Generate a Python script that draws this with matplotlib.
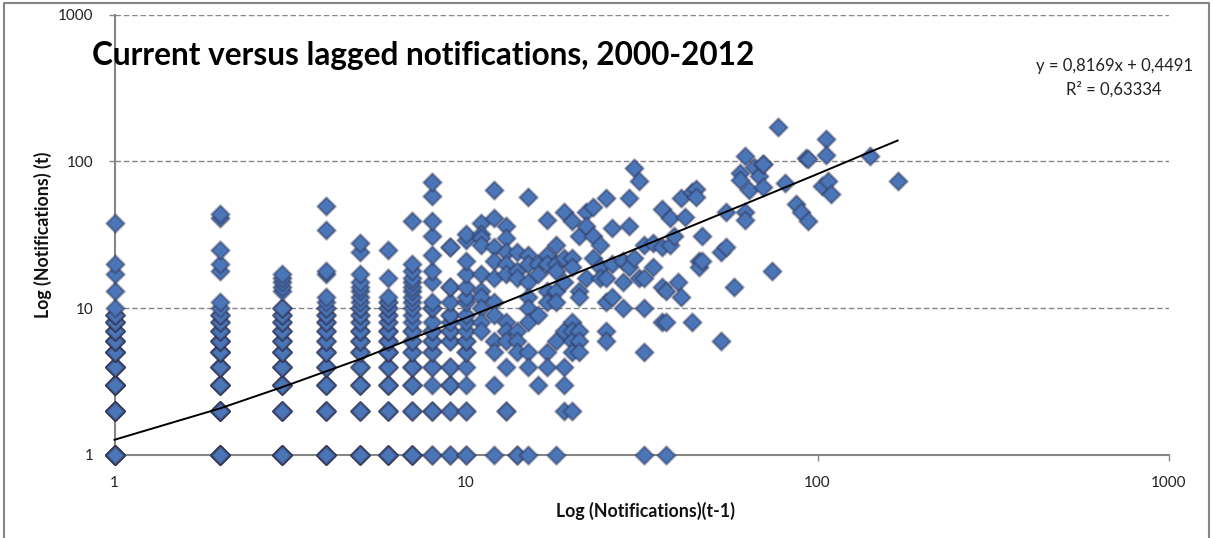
import matplotlib
matplotlib.use('Agg')
import matplotlib.pyplot as plt
from matplotlib.lines import Line2D
from matplotlib.markers import MarkerStyle

plt.rcParams['font.family'] = ['Lato', 'DejaVu Sans']

W, H = 1212, 538

# Столбцы с малыми значениями: повторы дают тёмные контуры
y_at_1 = [1]*12 + [2]*9 + [3]*9 + [4]*8 + [5]*7 + [6]*6 + [7]*5 + [8]*5 + [9]*4 + [10, 13, 17, 20, 38]
y_at_2 = [1]*10 + [2]*8 + [3]*7 + [4]*6 + [5]*6 + [6]*5 + [7]*4 + [8]*3 + [9]*3 + [10, 11, 18, 20, 25, 41, 44]
y_at_3 = [1]*9 + [2]*6 + [3]*6 + [4]*5 + [5]*5 + [6]*4 + [7]*4 + [8]*3 + [9]*3 + [10]*3 + [13, 14, 15, 16, 17]
y_at_4 = [1]*8 + [2]*5 + [3]*5 + [4]*4 + [5]*4 + [6]*3 + [7]*3 + [8]*3 + [9]*3 + [10]*2 + [11, 12, 17, 18, 34, 50]
y_at_5 = [1]*6 + [2]*4 + [3]*4 + [4]*3 + [5]*3 + [6]*3 + [7]*3 + [8]*2 + [9]*2 + [10]*2 + [11, 12, 13, 14, 15, 17, 24, 28]
y_at_6 = [1]*6 + [2]*4 + [3]*4 + [4]*3 + [5]*4 + [6]*3 + [7]*3 + [8]*2 + [9]*2 + [10]*2 + [11]*2 + [12, 16, 25]
y_at_7 = [1]*5 + [2]*3 + [3]*3 + [4]*3 + [5]*2 + [6]*2 + [7]*2 + [8, 9, 10, 11, 12, 13, 14, 15, 16, 18, 20, 39]
y_at_8 = [1, 1, 2, 2, 2, 3, 4, 4, 5, 5, 6, 6, 7, 7, 8, 10, 10, 11, 15, 18, 23, 31, 39, 58, 72]
y_at_9 = [1, 1, 2, 2, 3, 3, 3, 4, 4, 6, 6, 7, 7, 8, 9, 9, 11, 14, 14, 26, 26]
y_at_10 = [1, 1, 2, 2, 3, 4, 5, 5, 6, 6, 7, 8, 9, 11, 12, 14, 17, 21, 29, 32]

columns_x = [1, 2, 3, 4, 5, 6, 7, 8, 9, 10]
columns_y = [y_at_1, y_at_2, y_at_3, y_at_4, y_at_5, y_at_6, y_at_7, y_at_8, y_at_9, y_at_10]

# Разреженная часть облака
x_rest = [11, 11, 11, 11, 11, 11, 11, 11, 11, 11, 12, 12, 12, 12, 12, 12, 12, 12, 12, 12, 12,
          13, 13, 13, 13, 13, 13, 13, 13, 13, 13, 13, 14, 14, 14, 14, 14, 14, 14, 14,
          15, 15, 15, 15, 15, 15, 15, 15, 15, 15, 16, 16, 16, 16, 17, 17, 17, 17, 17, 17, 17,
          18, 18, 18, 18, 18, 18, 18, 19, 19, 19, 19, 19, 19, 19, 20, 20, 20, 20, 20, 20, 20, 20,
          21, 21, 21, 21, 21, 21, 22, 22, 22, 23, 23, 23, 24, 24, 24, 25, 25, 25, 25, 25,
          26, 26, 26, 28, 28, 28, 29, 29, 29, 30, 30, 31, 31, 32, 32, 32, 32, 32,
          34, 34, 36, 36, 36, 36, 37, 37, 37, 38, 38, 39, 40, 41, 41, 42, 44, 44, 45, 45, 46, 46,
          47, 47, 53, 53, 55, 55, 58, 60, 60, 62, 62, 62, 64, 66, 68, 70, 70, 70,
          74, 77, 81, 87, 90, 93, 94, 94, 103, 106, 106, 107, 109, 141, 169]
y_rest = [38, 32, 30, 27, 17, 13, 12, 10, 8, 7, 64, 41, 26, 21, 16, 11, 9, 6, 5, 3, 1,
          36, 30, 24, 20, 17, 8, 7, 6, 4, 2, 2, 24, 18, 16, 7, 6, 5, 1, 1,
          57, 23, 20, 15, 12, 10, 8, 5, 4, 1, 20, 17, 9, 3, 40, 23, 20, 13, 11, 5, 4,
          27, 20, 18, 13, 11, 6, 1, 45, 22, 15, 7, 4, 3, 2, 39, 22, 19, 8, 7, 6, 5, 2,
          31, 13, 12, 7, 6, 5, 45, 36, 16, 49, 31, 22, 27, 19, 16, 56, 16, 11, 7, 6,
          35, 20, 12, 21, 15, 10, 56, 36, 19, 90, 22, 73, 16, 27, 16, 10, 5, 1,
          28, 19, 47, 26, 14, 8, 13, 8, 1, 41, 27, 31, 15, 56, 12, 42, 62, 8, 65, 57, 21, 19,
          31, 21, 24, 6, 45, 26, 14, 83, 75, 108, 45, 40, 64, 92, 79, 96, 96, 67,
          18, 170, 71, 51, 45, 105, 104, 39, 68, 143, 110, 73, 60, 108, 73]

# Линия тренда, значения
trend_x = [1, 2, 3, 5, 7, 10, 15, 20, 30, 50, 70, 100, 140, 169]
trend_y = [1.27, 2.08, 2.9, 4.5, 6.2, 8.6, 12.7, 16.8, 25, 41.3, 57.6, 82, 115, 138.5]

ticks = [1, 10, 100, 1000]
tick_labels = ['1', '10', '100', '1000']

xs = []
ys = []
for cx, cy in zip(columns_x, columns_y):
    xs += [cx] * len(cy)
    ys += cy
xs += x_rest
ys += y_rest

fig = plt.figure(figsize=(W / 100, H / 100), dpi=100)
ax = fig.add_axes([114.5 / W, 1 - 455 / H, (1169 - 114.5) / W, (455 - 14.5) / H])
ax.set_xscale('log')
ax.set_yscale('log')
ax.set_xlim(1, 1000)
ax.set_ylim(1, 1000)

ax.grid(True, axis='y', which='major', color='#868686', linestyle=(0, (4, 2)), linewidth=1)
ax.set_axisbelow(True)
for s in ['top', 'right']:
    ax.spines[s].set_visible(False)
for s in ['left', 'bottom']:
    ax.spines[s].set_color('#868686')
    ax.spines[s].set_linewidth(1.5)
    ax.spines[s].set_zorder(1)

ax.set_xticks(ticks)
ax.set_xticklabels(tick_labels)
ax.set_yticks(ticks)
ax.set_yticklabels(tick_labels)
ax.minorticks_off()
ax.tick_params(axis='both', color='#868686', length=4, width=1, labelsize=11, labelcolor='#222222', pad=11)

diamond = MarkerStyle('D', joinstyle='round')
ax.plot(xs, ys, linestyle='none', marker=diamond, markersize=9, clip_on=False, zorder=3,
        markerfacecolor='#4a76b8', markeredgecolor=(0.18, 0.18, 0.3, 0.4), markeredgewidth=1.8)
ax.plot(trend_x, trend_y, color='black', linewidth=1.4, zorder=4, clip_on=False)

fig.text(92 / W, 1 - 56 / H, 'Current versus lagged notifications, 2000-2012',
         fontsize=22.7, fontweight='bold', va='center', ha='left', color='black')
fig.text(645 / W, 1 - 511 / H, 'Log (Notifications)(t-1)', fontsize=12.8, fontweight='bold',
         va='center', ha='center', color='#111111')
fig.text(43 / W, 1 - 235 / H, 'Log (Notifications) (t)', fontsize=12.8, fontweight='bold',
         rotation=90, va='center', ha='center', color='#111111')
fig.text(1114 / W, 1 - 66 / H, 'y = 0,8169x + 0,4491', fontsize=12, va='center', ha='center', color='#222222')
fig.text(1114 / W, 1 - 89 / H, 'R² = 0,63334', fontsize=12, va='center', ha='center', color='#222222')

# Рамка рисунка (снизу обрезана)
frame_x = [4 / W, 4 / W, 1209 / W, 1209 / W]
frame_y = [0, 1 - 3 / H, 1 - 3 / H, 0]
fig.add_artist(Line2D(frame_x, frame_y, color='#868686', linewidth=1.5, transform=fig.transFigure))

fig.savefig('out.png', dpi=100)
